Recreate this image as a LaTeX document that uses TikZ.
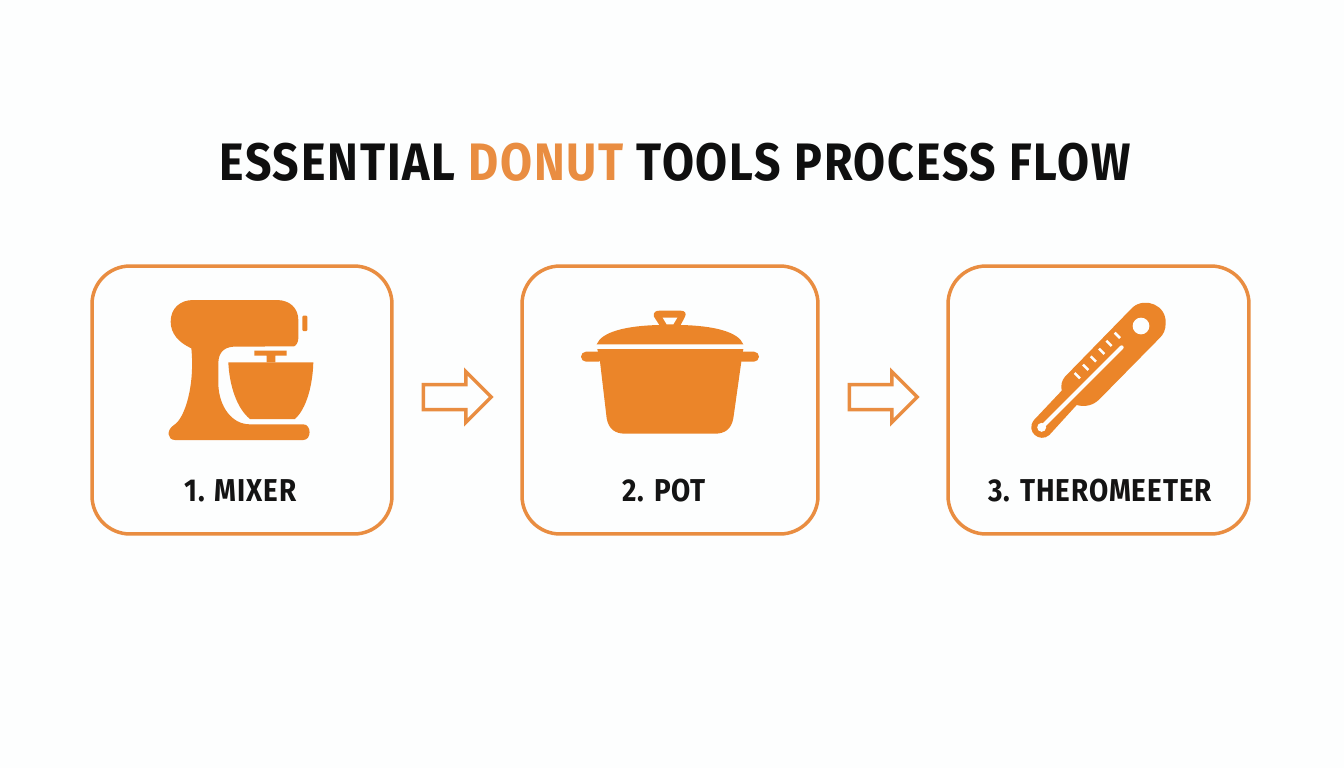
\documentclass[tikz,border=0pt]{standalone}
\usepackage{fontspec}
\setmainfont{Fira Sans}
\usetikzlibrary{shapes.arrows}
\definecolor{toolorange}{HTML}{EB8529}
\definecolor{frameorange}{HTML}{E98D41}
\definecolor{paperwhite}{HTML}{FDFEFE}
\tikzset{
	toolcard/.style = {draw = frameorange, line width = 0.07cm, rounded corners = 0.76cm, minimum height = 5.36cm},
	flowarrow/.style = {draw = frameorange, line width = 0.07cm, shape = single arrow, single arrow head extend = 0.26cm, minimum height = 1.36cm, inner xsep = 0pt, inner ysep = 0.215cm, single arrow tip angle = 90},
	toollabel/.style = {font = \fontsize{18}{22}\selectfont\bfseries\addfontfeature{FakeStretch = 0.88, LetterSpace = 3}, text = black!92},
	cut/.style = {fill = paperwhite, draw = none},
	zoomed/.style = {x = 0.00667cm, y = -0.00667cm}
}
\begin{document}
\begin{tikzpicture}[x = 0.02cm, y = -0.02cm]
	\fill[paperwhite] (0, 0) rectangle (1344, 768);
	\useasboundingbox (0, 0) rectangle (1344, 768);
	\node[font = \fontsize{30}{34}\selectfont\bfseries\addfontfeature{FakeStretch = 0.88, LetterSpace = 3.5}, text = black!94] (title) at (675, 162) {ESSENTIAL \textcolor{frameorange}{DONUT} TOOLS PROCESS FLOW};
	\node[toolcard, minimum width = 6.0cm] (mixercard) at (242, 400) {};
	\node[toolcard, minimum width = 5.92cm] (potcard) at (670, 400) {};
	\node[toolcard, minimum width = 6.02cm] (thermocard) at (1098.5, 400) {};
	\node[flowarrow] (firstarrow) at (451, 397) {};
	\node[flowarrow] (secondarrow) at (877, 397) {};
	\node[toollabel] (mixerlabel) at (240.5, 491) {1. MIXER};
	\node[toollabel] (potlabel) at (664, 491) {2. POT};
	\node[toollabel] (thermolabel) at (1100, 491) {3. THEROMEETER};
	\begin{scope}[shift = {(150, 285)}, zoomed]
		\fill[toolorange] (130, 45) -- (380, 45) .. controls (420, 45) and (445, 70) .. (445, 105) -- (445, 160) .. controls (445, 172) and (438, 182) .. (432, 184) -- (250, 185) .. controls (220, 187) and (205, 205) .. (205, 235) -- (205, 300) .. controls (208, 365) and (245, 418) .. (300, 418) -- (460, 418) .. controls (485, 418) and (485, 465) .. (460, 465) -- (75, 465) .. controls (52, 465) and (48, 435) .. (72, 420) .. controls (105, 400) and (135, 300) .. (124, 190) .. controls (85, 172) and (62, 145) .. (62, 110) .. controls (62, 70) and (90, 45) .. (130, 45) -- cycle;
		\fill[toolorange] (235, 232) -- (490, 232) .. controls (488, 300) and (470, 370) .. (435, 402) -- (300, 402) .. controls (260, 370) and (238, 300) .. (235, 232) -- cycle;
		\fill[toolorange] (313, 197) -- (410, 197) -- (410, 212) -- (376, 212) -- (376, 232) -- (350, 232) -- (350, 212) -- (313, 212) -- cycle;
		\fill[toolorange, rounded corners = 0.02cm] (457, 92) rectangle (472, 138);
	\end{scope}
	\begin{scope}[shift = {(570, 295)}, zoomed]
		\fill[toolorange] (80, 148) .. controls (95, 110) and (170, 92) .. (268, 90) -- (252, 65) .. controls (248, 52) and (258, 47) .. (268, 47) -- (332, 47) .. controls (345, 47) and (350, 55) .. (345, 65) -- (332, 90) .. controls (430, 92) and (505, 110) .. (520, 148) -- cycle;
		\fill[cut] (278, 68) -- (322, 68) -- (310, 88) -- (290, 88) -- cycle;
		\fill[toolorange] (82, 162) -- (520, 162) -- (514, 200) -- (490, 370) .. controls (484, 402) and (465, 416) .. (435, 416) -- (165, 416) .. controls (135, 416) and (116, 402) .. (110, 370) -- (90, 200) -- cycle;
		\fill[toolorange, rounded corners = 0.1cm] (33, 170) rectangle (100, 200);
		\fill[toolorange, rounded corners = 0.1cm] (500, 170) rectangle (567, 200);
	\end{scope}
	\begin{scope}[shift = {(1020, 290)}, zoomed]
		\fill[toolorange] (338, 52) .. controls (375, 20) and (440, 45) .. (437, 100) .. controls (437, 120) and (430, 133) .. (420, 143) -- (238, 328) .. controls (220, 346) and (195, 352) .. (170, 345) -- (88, 435) .. controls (60, 460) and (15, 425) .. (42, 390) -- (125, 302) .. controls (122, 285) and (125, 272) .. (135, 260) -- cycle;
		\fill[cut] (363, 108) circle [radius = 0.167cm];
		\draw[paperwhite, line width = 0.08cm, line cap = round] (65, 412) -- (305, 172);
		\fill[cut] (65, 412) circle [radius = 0.09cm];
		\foreach \tickx/\ticky in {172/257, 197/232, 220/207, 245/184, 267/160, 292/136}
			\draw[paperwhite, line width = 0.05cm] (\tickx - 8, \ticky - 8) -- (\tickx + 8, \ticky + 8);
	\end{scope}
\end{tikzpicture}
\end{document}
